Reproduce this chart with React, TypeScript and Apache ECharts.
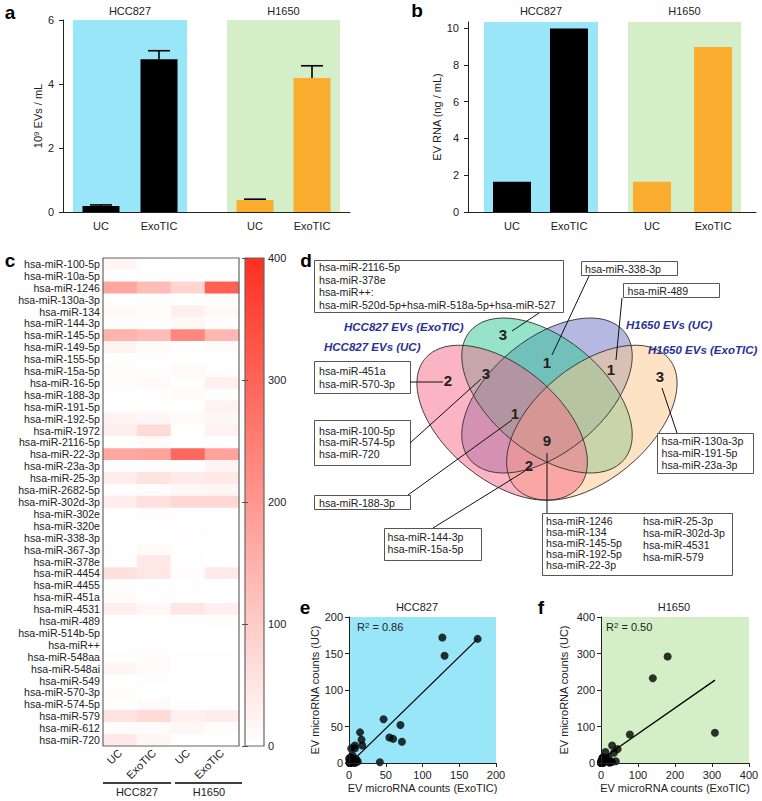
import React, { useEffect, useRef } from "react";
import * as echarts from "echarts";

const FONT = "'Liberation Sans', Arial, Helvetica, sans-serif";
const INK = "#222222";
const CYAN = "#98e6f8";
const GREEN = "#d4efc7";
const ORANGE = "#fbad2f";
const HEAT_MAX = "#ff3020";

// ---------- panels a & b ----------
const cellLines = ["HCC827", "H1650"];
const methods = ["UC", "ExoTIC", "UC", "ExoTIC"];
const evConc = [0.19, 4.77, 0.375, 4.19]; // 10^9 EVs / mL
const evConcErr = [0.03, 0.27, 0.025, 0.38];
const evRna = [1.65, 9.98, 1.65, 8.97]; // ng / mL
const yTicksA = [0, 2, 4, 6];
const yTicksB = [0, 2, 4, 6, 8, 10];

// ---------- panel c ----------
const miRNAs = [
  "hsa-miR-100-5p", "hsa-miR-10a-5p", "hsa-miR-1246", "hsa-miR-130a-3p", "hsa-miR-134",
  "hsa-miR-144-3p", "hsa-miR-145-5p", "hsa-miR-149-5p", "hsa-miR-155-5p", "hsa-miR-15a-5p",
  "hsa-miR-16-5p", "hsa-miR-188-3p", "hsa-miR-191-5p", "hsa-miR-192-5p", "hsa-miR-1972",
  "hsa-miR-2116-5p", "hsa-miR-22-3p", "hsa-miR-23a-3p", "hsa-miR-25-3p", "hsa-miR-2682-5p",
  "hsa-miR-302d-3p", "hsa-miR-302e", "hsa-miR-320e", "hsa-miR-338-3p", "hsa-miR-367-3p",
  "hsa-miR-378e", "hsa-miR-4454", "hsa-miR-4455", "hsa-miR-451a", "hsa-miR-4531",
  "hsa-miR-489", "hsa-miR-514b-5p", "hsa-miR++", "hsa-miR-548aa", "hsa-miR-548ai",
  "hsa-miR-549", "hsa-miR-570-3p", "hsa-miR-574-5p", "hsa-miR-579", "hsa-miR-612",
  "hsa-miR-720",
];
const hccUC = [20, 2, 172, 0, 10, 4, 147, 24, 2, 6, 5, 2, 1, 24, 29, 0, 170, 1, 35, 3, 33, 1, 1, 0, 2, 1, 60, 1, 8, 32, 0, 1, 0, 2, 20, 1, 6, 2, 52, 5, 42];
const hccExo = [3, 1, 127, 1, 5, 2, 130, 8, 3, 3, 10, 4, 2, 18, 72, 8, 175, 2, 55, 6, 60, 5, 2, 1, 12, 42, 47, 1, 2, 17, 1, 1, 3, 8, 8, 1, 0, 10, 70, 8, 15];
const h1650UC = [1, 1, 83, 0, 30, 14, 232, 3, 2, 12, 3, 8, 2, 12, 2, 0, 292, 1, 38, 15, 78, 1, 1, 4, 1, 1, 5, 1, 1, 48, 2, 1, 0, 1, 1, 0, 0, 1, 28, 15, 3];
const h1650Exo = [1, 2, 308, 6, 12, 4, 140, 8, 2, 4, 30, 2, 26, 15, 25, 1, 180, 22, 45, 20, 78, 4, 2, 0, 1, 0, 40, 1, 1, 30, 5, 1, 0, 1, 2, 1, 1, 1, 35, 5, 2];
const colorbarTicks = [0, 100, 200, 300, 400];

// ---------- panels e & f ----------
const fitE = [[8, 6], [175, 170]];
const fitF = [[12, 18], [308, 227]];
const r2E = "0.86";
const r2F = "0.50";
const axisLabelX = "EV microRNA counts (ExoTIC)";
const axisLabelY = "EV microRNA counts (UC)";

// ---------- panel d (Venn) ----------
const vennSetNames = ["HCC827 EVs (UC)", "HCC827 EVs (ExoTIC)", "H1650 EVs (UC)", "H1650 EVs (ExoTIC)"];
const vennCounts = ["3", "1", "1", "3", "2", "3", "1", "9", "2"];
const listGreenOnly = ["hsa-miR-2116-5p", "hsa-miR-378e", "hsa-miR++:", "hsa-miR-520d-5p+hsa-miR-518a-5p+hsa-miR-527"];
const listGreenBlue = ["hsa-miR-338-3p"];
const listBluePeach = ["hsa-miR-489"];
const listPinkOnly = ["hsa-miR-451a", "hsa-miR-570-3p"];
const listPinkGreen = ["hsa-miR-100-5p", "hsa-miR-574-5p", "hsa-miR-720"];
const listPGB = ["hsa-miR-188-3p"];
const listPBP = ["hsa-miR-144-3p", "hsa-miR-15a-5p"];
const listAllLeft = ["hsa-miR-1246", "hsa-miR-134", "hsa-miR-145-5p", "hsa-miR-192-5p", "hsa-miR-22-3p"];
const listAllRight = ["hsa-miR-25-3p", "hsa-miR-302d-3p", "hsa-miR-4531", "hsa-miR-579"];
const listPeachOnly = ["hsa-miR-130a-3p", "hsa-miR-191-5p", "hsa-miR-23a-3p"];

// ---------- layout (pixel offsets, not data) ----------
const POS_A = [38, 96, 192, 249];
const POS_B = [44, 101, 184, 245];
const BG_A = [[10, 124], [164, 277]];
const BG_B = [[16, 130], [160, 273]];
const B_MAX = 10.33;
const CAP = 11;

function txt(x: number, y: number, text: string, o: any = {}) {
  const align = o.align || "left";
  const va = o.va || "middle";
  return {
    type: "text",
    x,
    y,
    z: o.z || 50,
    silent: true,
    style: {
      text,
      fill: o.color || INK,
      fontFamily: FONT,
      fontSize: o.size || 11,
      fontWeight: o.weight || "normal",
      fontStyle: o.style || "normal",
      align,
      verticalAlign: va,
      textAlign: align,
      textVerticalAlign: va,
      lineHeight: o.lh,
      rich: o.rich,
    },
  };
}

function line(x1: number, y1: number, x2: number, y2: number, w = 1, color = "#111") {
  return { type: "line", z: 45, silent: true, shape: { x1, y1, x2, y2 }, style: { stroke: color, lineWidth: w } };
}

function box(rect: number[] | null, lines: string[], tx: number, ty: number, lh: number) {
  const els: any[] = [];
  if (rect) {
    els.push({
      type: "rect",
      z: 44,
      silent: true,
      shape: { x: rect[0] + 0.5, y: rect[1] + 0.5, width: rect[2], height: rect[3] },
      style: { fill: "#ffffff", stroke: "#555555", lineWidth: 1 },
    });
  }
  els.push(txt(tx, ty - lh / 2, lines.join("\n"), { va: "top", lh, size: 10.6, z: 46 }));
  return els;
}

function nearestLabel(pos: number[], v: number) {
  let best = 0;
  for (let i = 0; i < pos.length; i++) if (Math.abs(pos[i] - v) < Math.abs(pos[best] - v)) best = i;
  return methods[best];
}

function buildOption() {
  const heatCols = [hccUC, hccExo, h1650UC, h1650Exo];
  const heatData: number[][] = [];
  miRNAs.forEach((_, r) => heatCols.forEach((col, c) => heatData.push([c, r, col[r]])));
  const scatterE = miRNAs.map((_, i) => [hccExo[i], hccUC[i]]);
  const scatterF = miRNAs.map((_, i) => [h1650Exo[i], h1650UC[i]]);

  const axisLineStyle = { color: "#222", width: 1 };
  const tickLabel = { color: INK, fontSize: 11, fontFamily: FONT };

  const barAxisX = (grid: number, width: number, pos: number[]) => ({
    gridIndex: grid,
    type: "value",
    min: 0,
    max: width,
    z: 6,
    axisLine: { show: true, onZero: false, lineStyle: axisLineStyle },
    axisTick: { show: false },
    splitLine: { show: false },
    axisLabel: { ...tickLabel, margin: 8, customValues: pos, formatter: (v: number) => nearestLabel(pos, v) },
  });

  const markBg = (bgs: number[][], top: number, dist: number) => ({
    silent: true,
    label: { show: true, position: "top", distance: dist, color: INK, fontSize: 11, fontFamily: FONT },
    data: bgs.map((b, i) => [
      { name: cellLines[i], xAxis: b[0], yAxis: 0, itemStyle: { color: i === 0 ? CYAN : GREEN } },
      { xAxis: b[1], yAxis: top },
    ]),
  });

  const barColors = ["#000000", "#000000", ORANGE, ORANGE];

  // Venn ellipses (unit-square geometry of a 4-set Venn), drawn bottom to top
  const S = 299;
  const ell = [
    { cx: 0.5, cy: 0.57, rot: 45, fill: "rgba(107,113,196,0.5)" }, // H1650 UC (blue)
    { cx: 0.5, cy: 0.57, rot: -45, fill: "rgba(45,199,147,0.5)" }, // HCC827 ExoTIC (green)
    { cx: 0.65, cy: 0.47, rot: 45, fill: "rgba(251,200,135,0.5)" }, // H1650 ExoTIC (peach)
    { cx: 0.35, cy: 0.47, rot: -45, fill: "rgba(245,105,135,0.5)" }, // HCC827 UC (pink)
  ];
  const mkEll = (e: any, fill: string, stroke: string) => ({
    type: "ellipse",
    x: (e.cx - 0.5) * S,
    y: -e.cy * S,
    rotation: (e.rot * Math.PI) / 180,
    shape: { cx: 0, cy: 0, rx: 0.35 * S, ry: 0.2 * S },
    style: { fill, stroke, lineWidth: 0.9 },
    silent: true,
  });
  const vennGroup = {
    type: "group",
    x: 547,
    y: 550.6,
    scaleY: 0.91,
    z: 20,
    children: [
      ...ell.map((e) => mkEll(e, e.fill, "none")),
      ...ell.map((e) => mkEll(e, "none", "#333333")),
    ],
  };
  const countPos = [
    [503, 334], [547, 362], [611, 369], [660, 376], [448, 380], [486, 373], [515, 413], [547, 440], [529, 465],
  ];
  const setLabelPos = [
    [324, 347], [344, 327], [626, 325], [648, 350],
  ];

  const graphic: any[] = [
    // panel letters
    txt(10, 12, "a", { size: 19, weight: "bold", align: "center", color: "#000" }),
    txt(417, 10, "b", { size: 19, weight: "bold", align: "center", color: "#000" }),
    txt(10, 260, "c", { size: 19, weight: "bold", align: "center", color: "#000" }),
    txt(306, 260, "d", { size: 19, weight: "bold", align: "center", color: "#000" }),
    txt(305, 607, "e", { size: 19, weight: "bold", align: "center", color: "#000" }),
    txt(541, 607, "f", { size: 19, weight: "bold", align: "center", color: "#000" }),
    // heatmap frame & colorbar
    { type: "rect", z: 40, silent: true, shape: { x: 103, y: 258, width: 136, height: 488 }, style: { fill: "none", stroke: "#666", lineWidth: 1.2 } },
    {
      type: "rect",
      z: 5,
      silent: true,
      shape: { x: 245, y: 258, width: 19, height: 488 },
      style: {
        fill: new echarts.graphic.LinearGradient(0, 0, 0, 1, [
          { offset: 0, color: HEAT_MAX },
          { offset: 1, color: "#ffffff" },
        ]),
        stroke: "#666",
        lineWidth: 1.2,
      },
    },
    // heatmap group brackets
    line(103, 783, 171, 783, 1.6, "#000"),
    line(175, 783, 242, 783, 1.6, "#000"),
    txt(137, 792, cellLines[0], { align: "center" }),
    txt(209, 792, cellLines[1], { align: "center" }),
    // e / f titles and R^2
    txt(417, 607, cellLines[0], { align: "center" }),
    txt(674, 607, cellLines[1], { align: "center" }),
    txt(357, 627, "R{sup|2} = " + r2E, { rich: { sup: { fontSize: 8, verticalAlign: "top", fontFamily: FONT, fill: INK } } }),
    txt(606, 627, "R{sup|2} = " + r2F, { rich: { sup: { fontSize: 8, verticalAlign: "top", fontFamily: FONT, fill: INK } } }),
    // Venn
    vennGroup,
    ...vennCounts.map((c, i) => txt(countPos[i][0], countPos[i][1], c, { size: 15, weight: "bold", align: "center", color: "#222", z: 47 })),
    ...vennSetNames.map((n, i) =>
      txt(setLabelPos[i][0], setLabelPos[i][1], n, { size: 11.5, weight: "bold", style: "italic", color: "#2b2f96", z: 48 })
    ),
    // leader lines
    line(539, 313, 512, 331),
    line(589, 276, 552, 355),
    line(622, 298, 616, 360),
    line(410, 382, 443, 382),
    line(410, 443, 481, 379),
    line(408, 495, 512, 420),
    line(433, 528, 525, 471),
    line(547, 453, 547, 513),
    line(677, 433, 662, 388),
    ...box([314, 260, 249, 52], listGreenOnly, 319, 267, 12.6),
    ...box([581, 261, 96, 14], listGreenBlue, 585, 268.5, 12),
    ...box([623, 283, 96, 14], listBluePeach, 627.5, 290.5, 12),
    ...box([314, 361, 96, 32], listPinkOnly, 319, 370.5, 13),
    ...box([314, 420, 96, 45], listPinkGreen, 319, 431, 11.3),
    ...box([314, 495, 96, 14], listPGB, 319, 502.5, 12),
    ...box([384, 528, 97, 32], listPBP, 387.5, 537, 11.7),
    ...box([542, 513, 190, 62], listAllLeft, 546, 521, 10.9),
    ...box(null, listAllRight, 643, 521, 12),
    ...box([657, 433, 96, 40], listPeachOnly, 661.5, 441, 11.8),
  ];

  return {
    animation: false,
    backgroundColor: "#ffffff",
    textStyle: { fontFamily: FONT, color: INK },
    grid: [
      { left: 63, top: 20, width: 287, height: 192 },
      { left: 468, top: 22, width: 288, height: 190 },
      { left: 103, top: 258, width: 136, height: 488 },
      { left: 245, top: 258, width: 19, height: 488 },
      { left: 349, top: 617, width: 147, height: 146, show: true, backgroundColor: CYAN, borderWidth: 0 },
      { left: 601, top: 617, width: 148, height: 146, show: true, backgroundColor: GREEN, borderWidth: 0 },
    ],
    xAxis: [
      barAxisX(0, 287, POS_A),
      barAxisX(1, 288, POS_B),
      {
        gridIndex: 2,
        type: "category",
        data: methods,
        axisLine: { show: false },
        axisTick: { show: false },
        splitLine: { show: false },
        axisLabel: { ...tickLabel, rotate: 45, margin: 5, interval: 0 },
      },
      { gridIndex: 3, type: "value", show: false, min: 0, max: 1 },
      {
        gridIndex: 4,
        type: "value",
        min: 0,
        max: 200,
        interval: 50,
        name: axisLabelX,
        nameLocation: "middle",
        nameGap: 19,
        nameTextStyle: { ...tickLabel },
        z: 6,
        axisLine: { show: true, onZero: false, lineStyle: axisLineStyle },
        axisTick: { show: true, length: 4, lineStyle: axisLineStyle },
        axisLabel: { ...tickLabel, margin: 6 },
        splitLine: { show: false },
      },
      {
        gridIndex: 5,
        type: "value",
        min: 0,
        max: 400,
        interval: 100,
        name: axisLabelX,
        nameLocation: "middle",
        nameGap: 19,
        nameTextStyle: { ...tickLabel },
        z: 6,
        axisLine: { show: true, onZero: false, lineStyle: axisLineStyle },
        axisTick: { show: true, length: 4, lineStyle: axisLineStyle },
        axisLabel: { ...tickLabel, margin: 6 },
        splitLine: { show: false },
      },
    ],
    yAxis: [
      {
        gridIndex: 0,
        type: "value",
        min: 0,
        max: 6,
        interval: 2,
        z: 6,
        name: "10{sup|9} EVs / mL",
        nameLocation: "middle",
        nameGap: 20,
        nameTextStyle: { ...tickLabel, rich: { sup: { fontSize: 8, verticalAlign: "top", fontFamily: FONT, color: INK } } },
        axisLine: { show: true, onZero: false, lineStyle: axisLineStyle },
        axisTick: { show: true, length: 4, lineStyle: axisLineStyle, customValues: yTicksA },
        axisLabel: { ...tickLabel, margin: 9, customValues: yTicksA },
        splitLine: { show: false },
      },
      {
        gridIndex: 1,
        type: "value",
        min: 0,
        max: B_MAX,
        z: 6,
        name: "EV RNA (ng / mL)",
        nameLocation: "middle",
        nameGap: 20,
        nameTextStyle: { ...tickLabel },
        axisLine: { show: true, onZero: false, lineStyle: axisLineStyle },
        axisTick: { show: true, length: 4, lineStyle: axisLineStyle, customValues: yTicksB },
        axisLabel: { ...tickLabel, margin: 9, customValues: yTicksB },
        splitLine: { show: false },
      },
      {
        gridIndex: 2,
        type: "category",
        data: miRNAs,
        inverse: true,
        axisLine: { show: false },
        axisTick: { show: false },
        splitLine: { show: false },
        axisLabel: { ...tickLabel, fontSize: 10.6, margin: 3, interval: 0 },
      },
      {
        gridIndex: 3,
        type: "value",
        position: "right",
        min: 0,
        max: 400,
        interval: 100,
        z: 8,
        axisLine: { show: false },
        axisTick: { show: true, inside: true, length: 3, lineStyle: { color: "#555" } },
        axisLabel: { ...tickLabel, margin: 4, customValues: colorbarTicks },
        splitLine: { show: false },
      },
      {
        gridIndex: 3,
        type: "value",
        position: "left",
        min: 0,
        max: 400,
        interval: 100,
        z: 8,
        axisLine: { show: false },
        axisTick: { show: true, inside: true, length: 3, lineStyle: { color: "#555" } },
        axisLabel: { show: false },
        splitLine: { show: false },
      },
      {
        gridIndex: 4,
        type: "value",
        min: 0,
        max: 200,
        interval: 50,
        z: 6,
        name: axisLabelY,
        nameLocation: "middle",
        nameGap: 28,
        nameTextStyle: { ...tickLabel },
        axisLine: { show: true, onZero: false, lineStyle: axisLineStyle },
        axisTick: { show: true, length: 4, lineStyle: axisLineStyle },
        axisLabel: { ...tickLabel, margin: 6 },
        splitLine: { show: false },
      },
      {
        gridIndex: 5,
        type: "value",
        min: 0,
        max: 400,
        interval: 100,
        z: 6,
        name: axisLabelY,
        nameLocation: "middle",
        nameGap: 32,
        nameTextStyle: { ...tickLabel },
        axisLine: { show: true, onZero: false, lineStyle: axisLineStyle },
        axisTick: { show: true, length: 4, lineStyle: axisLineStyle },
        axisLabel: { ...tickLabel, margin: 6 },
        splitLine: { show: false },
      },
    ],
    visualMap: [
      {
        type: "continuous",
        show: false,
        min: 0,
        max: 400,
        seriesIndex: 3,
        inRange: { color: ["#ffffff", HEAT_MAX] },
      },
    ],
    series: [
      {
        type: "bar",
        xAxisIndex: 0,
        yAxisIndex: 0,
        barWidth: 37,
        z: 3,
        data: evConc.map((v, i) => ({ value: [POS_A[i], v], itemStyle: { color: barColors[i] } })),
        markArea: markBg(BG_A, 6, 4),
      },
      {
        type: "custom",
        xAxisIndex: 0,
        yAxisIndex: 0,
        z: 4,
        data: evConc.map((v, i) => [POS_A[i], v, evConcErr[i]]),
        renderItem: (params: any, api: any) => {
          const x = api.value(0);
          const v = api.value(1);
          const e = api.value(2);
          const b = api.coord([x, v]);
          const t = api.coord([x, v + e]);
          const st = { stroke: "#000", lineWidth: 1.6 };
          return {
            type: "group",
            children: [
              { type: "line", shape: { x1: b[0], y1: b[1], x2: t[0], y2: t[1] }, style: st },
              { type: "line", shape: { x1: t[0] - CAP, y1: t[1], x2: t[0] + CAP, y2: t[1] }, style: st },
            ],
          };
        },
      },
      {
        type: "bar",
        xAxisIndex: 1,
        yAxisIndex: 1,
        barWidth: 38,
        z: 3,
        data: evRna.map((v, i) => ({ value: [POS_B[i], v], itemStyle: { color: barColors[i] } })),
        markArea: markBg(BG_B, B_MAX, 6),
      },
      {
        type: "heatmap",
        xAxisIndex: 2,
        yAxisIndex: 2,
        data: heatData,
        itemStyle: { borderWidth: 0 },
        emphasis: { disabled: true },
      },
      {
        type: "scatter",
        xAxisIndex: 4,
        yAxisIndex: 5,
        symbolSize: 8,
        z: 4,
        itemStyle: { color: "#000" },
        data: scatterE,
      },
      {
        type: "line",
        xAxisIndex: 4,
        yAxisIndex: 5,
        symbol: "none",
        z: 5,
        lineStyle: { color: "#000", width: 1.3 },
        data: fitE,
      },
      {
        type: "scatter",
        xAxisIndex: 5,
        yAxisIndex: 6,
        symbolSize: 8,
        z: 4,
        itemStyle: { color: "#000" },
        data: scatterF,
      },
      {
        type: "line",
        xAxisIndex: 5,
        yAxisIndex: 6,
        symbol: "none",
        z: 5,
        lineStyle: { color: "#000", width: 1.3 },
        data: fitF,
      },
    ],
    graphic,
  };
}

export default function App() {
  const ref = useRef<HTMLDivElement>(null);
  useEffect(() => {
    if (!ref.current) return;
    const chart = echarts.init(ref.current, null, { renderer: "svg" });
    chart.setOption(buildOption() as any);
    return () => chart.dispose();
  }, []);
  return (
    <div
      ref={ref}
      style={{ position: "absolute", left: 0, top: 0, width: 762, height: 801, background: "#fff" }}
    />
  );
}
